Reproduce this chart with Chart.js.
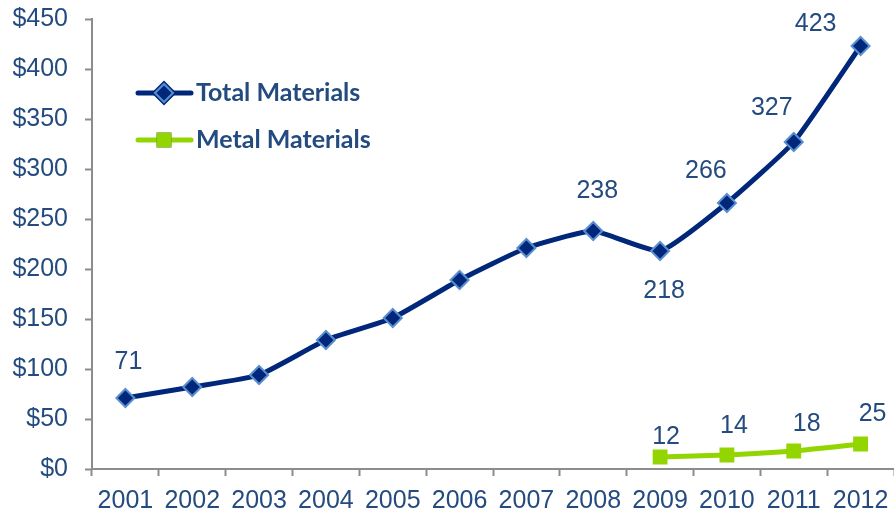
<!DOCTYPE html>
<html>
<head>
<meta charset="utf-8">
<script src="https://cdn.jsdelivr.net/npm/chart.js@4.4.1/dist/chart.umd.min.js"></script>
<style>
  html, body { margin: 0; padding: 0; background: #ffffff; }
  #wrap { width: 894px; height: 514px; position: relative; }
</style>
</head>
<body>
<div id="wrap"><canvas id="materialsChart"></canvas></div>
<script>
// Data
var years = ["2001", "2002", "2003", "2004", "2005", "2006", "2007", "2008", "2009", "2010", "2011", "2012"];
var totalMaterials = [71, 82, 94, 129, 151, 189, 221, 238, 218, 266, 327, 423];
var metalMaterials = [null, null, null, null, null, null, null, null, 12, 14, 18, 25];
var yTicks = [0, 50, 100, 150, 200, 250, 300, 350, 400, 450];

// Which points get a value label, and where it sits relative to the point (px)
var totalLabelOffsets = [[3, -36], null, null, null, null, null, null, [4, -40], [4, 40], [-21, -32], [-22, -34], [-45, -22]];
var metalLabelOffsets = [null, null, null, null, null, null, null, null, [6, -20], [7, -29], [13, -27], [12, -30]];

var NAVY = "#00277a";
var NAVY_EDGE = "#5a8fcf";
var GREEN = "#93d500";
var TEXT = "#244b7f";
var AXIS = "#8c8c8c";

// value labels next to the points
var valueLabels = {
  id: "valueLabels",
  afterDatasetsDraw: function (chart) {
    var ctx = chart.ctx;
    var offsets = [totalLabelOffsets, metalLabelOffsets];
    ctx.save();
    ctx.font = "25px 'Liberation Sans', Arial, sans-serif";
    ctx.fillStyle = TEXT;
    ctx.textAlign = "center";
    ctx.textBaseline = "middle";
    chart.data.datasets.forEach(function (ds, i) {
      var meta = chart.getDatasetMeta(i);
      meta.data.forEach(function (pt, j) {
        var off = offsets[i][j];
        if (!off || ds.data[j] == null) return;
        ctx.fillText(String(ds.data[j]), pt.x + off[0], pt.y + off[1]);
      });
    });
    ctx.restore();
  }
};

// legend drawn inside the plot area, top-left
var insideLegend = {
  id: "insideLegend",
  afterDraw: function (chart) {
    var ctx = chart.ctx;
    var rows = [
      { ds: chart.data.datasets[0], y: 93 },
      { ds: chart.data.datasets[1], y: 140 }
    ];
    ctx.save();
    rows.forEach(function (r) {
      ctx.strokeStyle = r.ds.borderColor;
      ctx.lineWidth = r.ds.borderWidth;
      ctx.lineCap = "round";
      ctx.beginPath();
      ctx.moveTo(138, r.y);
      ctx.lineTo(191, r.y);
      ctx.stroke();
      Chart.helpers.drawPoint(ctx, {
        pointStyle: r.ds.pointStyle,
        radius: r.ds.pointRadius,
        borderWidth: r.ds.pointBorderWidth
      }, 164, r.y);
      ctx.fillStyle = r.ds.pointBackgroundColor;
      ctx.strokeStyle = r.ds.pointBorderColor;
      ctx.lineWidth = r.ds.pointBorderWidth;
      ctx.fill();
      if (r.ds.pointBorderWidth) ctx.stroke();
      ctx.fillStyle = TEXT;
      ctx.font = "bold 25px Lato, 'Open Sans', sans-serif";
      ctx.textAlign = "left";
      ctx.textBaseline = "middle";
      ctx.fillText(r.ds.label, 196, r.y);
    });
    ctx.restore();
  }
};

new Chart(document.getElementById("materialsChart"), {
  type: "line",
  data: {
    labels: years,
    datasets: [
      {
        label: "Total Materials",
        data: totalMaterials,
        borderColor: NAVY,
        borderWidth: 5,
        tension: 0.15,
        pointStyle: "rectRot",
        pointRadius: 9,
        pointBackgroundColor: NAVY,
        pointBorderColor: NAVY_EDGE,
        pointBorderWidth: 2
      },
      {
        label: "Metal Materials",
        data: metalMaterials,
        borderColor: GREEN,
        borderWidth: 5,
        tension: 0.15,
        pointStyle: "rect",
        pointRadius: 10.5,
        pointBackgroundColor: GREEN,
        pointBorderColor: GREEN,
        pointBorderWidth: 0
      }
    ]
  },
  options: {
    responsive: true,
    maintainAspectRatio: false,
    animation: false,
    layout: { autoPadding: false, padding: { top: 19, right: 0, left: 0, bottom: 0 } },
    plugins: {
      legend: { display: false },
      tooltip: { enabled: false }
    },
    scales: {
      x: {
        offset: true,
        grid: {
          offset: true,
          drawOnChartArea: false,
          drawTicks: true,
          tickLength: 7,
          tickColor: AXIS,
          tickWidth: 2
        },
        border: { color: AXIS, width: 2 },
        ticks: {
          color: TEXT,
          padding: 10,
          maxRotation: 0,
          autoSkip: false,
          font: { family: "'Liberation Sans', Arial, sans-serif", size: 25 }
        },
        afterFit: function (scale) {
          scale.height = 45;
          scale.paddingLeft = 0;
          scale.paddingRight = 0;
        }
      },
      y: {
        min: 0,
        max: 450,
        afterBuildTicks: function (scale) {
          scale.ticks = yTicks.map(function (v) { return { value: v }; });
        },
        grid: {
          drawOnChartArea: false,
          drawTicks: true,
          tickLength: 7,
          tickColor: AXIS,
          tickWidth: 2
        },
        border: { color: AXIS, width: 2 },
        ticks: {
          color: TEXT,
          padding: 17,
          font: { family: "'Liberation Sans', Arial, sans-serif", size: 25 },
          callback: function (v) { return "$" + v; }
        },
        afterFit: function (scale) {
          scale.width = 92;
          scale.paddingTop = 0;
          scale.paddingBottom = 0;
        }
      }
    }
  },
  plugins: [valueLabels, insideLegend]
});
</script>
</body>
</html>
